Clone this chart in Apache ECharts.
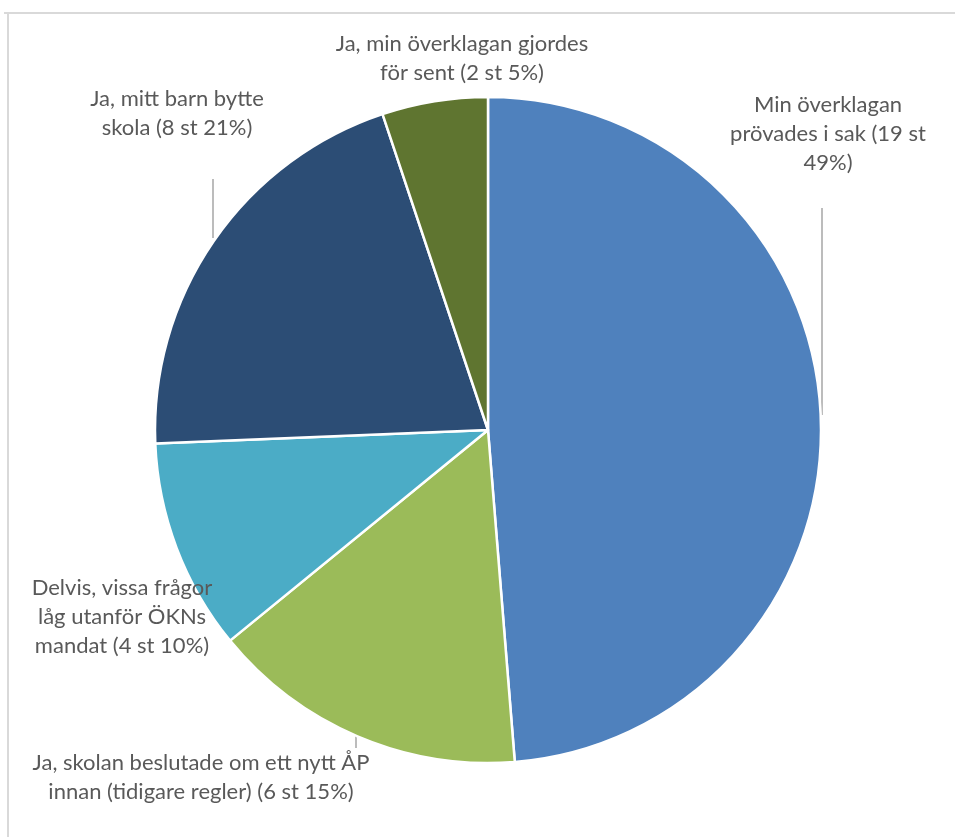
<!DOCTYPE html>
<html>
<head>
<meta charset="utf-8">
<script src="https://cdn.jsdelivr.net/npm/echarts@6/dist/echarts.min.js"></script>
<style>
html,body{margin:0;padding:0;background:#fff;}
#chart{width:955px;height:837px;}
</style>
</head>
<body>
<div id="chart"></div>
<script>
const categories = [
  "Min överklagan prövades i sak",
  "Ja, skolan beslutade om ett nytt ÅP innan (tidigare regler)",
  "Delvis, vissa frågor låg utanför ÖKNs mandat",
  "Ja, mitt barn bytte skola",
  "Ja, min överklagan gjordes för sent"
];
const counts = [19, 6, 4, 8, 2];
const labelTexts = [
  "Min överklagan\nprövades i sak (19 st\n49%)",
  "Ja, skolan beslutade om ett nytt ÅP\ninnan (tidigare regler) (6 st 15%)",
  "Delvis, vissa frågor\nlåg utanför ÖKNs\nmandat (4 st 10%)",
  "Ja, mitt barn bytte\nskola (8 st 21%)",
  "Ja, min överklagan gjordes\nför sent (2 st 5%)"
];
const colors = ["#4F81BD", "#9BBB59", "#4BACC6", "#2C4D75", "#5F7530"];

const labelPos = [
  {x: 828, y: 134, line: [[822, 208], [822, 415]]},
  {x: 201, y: 777, line: [[356, 735], [356, 748]]},
  {x: 122, y: 617, line: null},
  {x: 177, y: 113, line: [[213, 179], [213, 238]]},
  {x: 462, y: 58, line: null}
];

const chart = echarts.init(document.getElementById('chart'), null, {renderer: 'canvas'});
chart.setOption({
  animation: false,
  backgroundColor: '#ffffff',
  graphic: [
    {type: 'line', shape: {x1: 4, y1: 13, x2: 955, y2: 13}, style: {stroke: '#d9d9d9', lineWidth: 2}},
    {type: 'line', shape: {x1: 8, y1: 13, x2: 8, y2: 837}, style: {stroke: '#d9d9d9', lineWidth: 2}}
  ],
  series: [{
    type: 'pie',
    center: [488, 430],
    radius: 333,
    startAngle: 90,
    clockwise: true,
    avoidLabelOverlap: false,
    itemStyle: {borderColor: '#ffffff', borderWidth: 2.5},
    label: {
      show: true,
      position: 'outside',
      color: '#595959',
      fontFamily: 'Lato',
      fontSize: 22,
      lineHeight: 29,
      align: 'center',
      formatter: p => labelTexts[p.dataIndex]
    },
    labelLine: {show: true, lineStyle: {color: '#a6a6a6', width: 1.5}},
    labelLayout: function (params) {
      const lp = labelPos[params.dataIndex];
      const out = {x: lp.x, y: lp.y, align: 'center', verticalAlign: 'middle', hideOverlap: false};
      if (lp.line) out.labelLinePoints = lp.line;
      return out;
    },
    data: categories.map((c, i) => ({
      name: c,
      value: counts[i],
      itemStyle: {color: colors[i]},
      labelLine: {show: !!labelPos[i].line}
    }))
  }]
});
</script>
</body>
</html>
